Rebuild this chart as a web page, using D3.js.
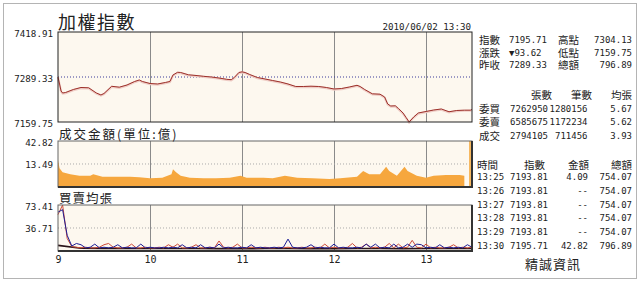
<!DOCTYPE html>
<html>
<head>
<meta charset="utf-8">
<script src="https://cdn.jsdelivr.net/npm/d3@7"></script>
<style>
  body { margin: 0; background: #fff; }
  svg text { font-family: "DejaVu Sans Mono", monospace; fill: #222; }
  svg text.cjk { font-family: "Noto Sans CJK TC", sans-serif; }
  svg text.lbl { font-family: "DejaVu Sans Mono", "Noto Sans CJK TC", monospace; }
</style>
</head>
<body>
<svg id="chart" width="640" height="282"></svg>
<script>
// ---- data ----
const idxTimes = ["09:00","09:02","09:03","09:05","09:10","09:15","09:20","09:25","09:28","09:30",
  "09:35","09:40","09:45","09:50","09:53","09:55","10:00","10:05","10:10","10:13",
  "10:15","10:18","10:20","10:25","10:30","10:35","10:40","10:45","10:50","10:53",
  "10:55","10:58","11:00","11:02","11:05","11:10","11:15","11:20","11:25","11:30",
  "11:35","11:40","11:45","11:50","11:55","12:00","12:05","12:10","12:15","12:17",
  "12:20","12:25","12:30","12:33","12:35","12:37","12:40","12:42","12:45","12:47",
  "12:49","12:52","12:55","13:00","13:05","13:10","13:15","13:20","13:25","13:29","13:30"];
const idxValues = [7289.33,7249.0,7243.2,7244.7,7253.3,7259.1,7258.2,7243.3,7237.5,7241.8,
  7262.6,7260.0,7266.3,7276.4,7280.7,7276.4,7270.6,7269.2,7273.5,7276.4,
  7295.1,7302.9,7302.3,7295.7,7293.7,7291.3,7289.3,7286.4,7282.7,7281.6,
  7287.9,7302.3,7304.13,7302.3,7296.5,7287.9,7283.6,7279.2,7274.9,7269.2,
  7262.0,7262.0,7262.8,7262.0,7259.1,7254.8,7256.2,7260.5,7265.4,7262.0,
  7253.3,7240.9,7239.8,7231.7,7211.6,7205.8,7206.4,7198.6,7185.7,7172.7,
  7159.75,7174.1,7185.7,7190.0,7194.3,7197.2,7189.2,7192.9,7193.81,7193.81,7195.71];
const prevClose = 7289.33;
const idxTicks = [7159.75, 7289.33, 7418.91];

const volTimes = ["09:00","09:01","09:03","09:08","09:14","09:21","09:23","09:29","09:38","09:47",
  "09:53","10:00","10:08","10:14","10:15","10:17","10:20","10:26","10:35","10:43",
  "10:52","10:59","11:03","11:14","11:20","11:28","11:36","11:46","11:57","12:04",
  "12:15","12:19","12:23","12:30","12:34","12:36","12:41","12:46","12:48","12:54",
  "13:00","13:05","13:13","13:22","13:25"];
const volValues = [17.6,9.5,6.4,5.0,4.1,4.1,5.0,3.5,3.5,3.5,
  3.2,2.7,3.0,5.0,8.7,6.4,4.1,3.0,2.7,2.7,
  3.0,4.1,3.0,3.0,2.7,4.1,3.0,2.7,2.3,2.7,
  3.5,7.4,5.0,5.0,11.0,7.4,4.1,11.0,7.4,4.1,
  3.0,4.1,4.6,4.6,4.09];
const volLastTime = "13:30";
const volLastValue = 42.82;
const volTicks = [13.49, 42.82];

// average lot size, one value every 3 minutes from 09:00
const avgStep = 3;
const buyAvg = [58,73.41,20,7,6,5,6,5,5,6, 10,12,6,5,5,6,11,5,5,6, 5,5,6,5,10,6,11,5,5,6,
  10,5,5,6,5,16,6,5,6,11, 5,5,6,5,5,6,5,5,6,5, 6,5,5,6,5,5,6,5,11,5,
  6,5,5,6,12,5,6,11,5,6, 5,6,12,5,11,5,6,17,6,5, 11,5,6,5,5,6,10,5,6,5, 6];
const sellAvg = [62,66,25,8,12,10,5,6,11,5, 6,5,6,10,5,6,5,5,11,5, 6,5,5,6,5,6,5,10,5,6,
  5,10,5,6,5,11,5,6,5,5, 6,5,10,5,6,5,5,6,5,6, 19,6,5,5,6,10,5,6,5,5,
  11,5,6,5,5,6,5,11,6,11, 5,6,5,11,5,6,11,6,11,10, 5,6,5,10,5,6,5,6,5,10, 6];
// traded average lot size, one value every 15 minutes
const tradeStep = 15;
const tradeAvg = [9, 4.4, 4.2, 4.0, 4.0, 3.9, 3.9, 3.8, 3.8, 3.9, 3.9, 3.8, 3.8, 3.9, 3.9, 3.8, 3.9, 3.9, 3.9];
const avgTicks = [36.71, 73.41];

const hourTicks = ["09:00","10:00","11:00","12:00","13:00"];

// right panel
const quoteLabelsA = ["指數","漲跌","昨收"];
const quoteValuesA = ["7195.71","▼93.62","7289.33"];
const quoteLabelsB = ["高點","低點","總額"];
const quoteValuesB = ["7304.13","7159.75","796.89"];
const orderHeads = ["張數","筆數","均張"];
const orderNames = ["委買","委賣","成交"];
const orderLots = [7262950, 6585675, 2794105];
const orderCounts = [1280156, 1172234, 711456];
const orderAvg = [5.67, 5.62, 3.93];
const tickHeads = ["時間","指數","金額","總額"];
const tickTimes = ["13:25","13:26","13:27","13:28","13:29","13:30"];
const tickIndex = [7193.81, 7193.81, 7193.81, 7193.81, 7193.81, 7195.71];
const tickAmount = [4.09, null, null, null, null, 42.82];
const tickTotal = [754.07, 754.07, 754.07, 754.07, 754.07, 796.89];

// ---- drawing ----
const svg = d3.select("#chart");
const parse = d3.timeParse("%H:%M");
const L = 58, R = 472;
const panels = {
  main: { top: 32, bot: 122 },
  vol:  { top: 141, bot: 187 },
  avg:  { top: 205, bot: 251 }
};
const bg = "#fdf8ef";

const x = d3.scaleTime().domain([parse("09:00"), parse("13:30")]).range([L, R]);
const yMain = d3.scaleLinear().domain([idxTicks[0], idxTicks[2]]).range([panels.main.bot, panels.main.top]);
const yVol = d3.scalePow().exponent(0.6).domain([0, volTicks[1]]).range([panels.vol.bot, panels.vol.top]);
const yAvg = d3.scaleLinear().domain([0, avgTicks[1]]).range([panels.avg.bot, panels.avg.top]);

// outer border
svg.append("rect").attr("x", 3.5).attr("y", 3.5).attr("width", 633).attr("height", 275)
  .attr("fill", "#fff").attr("stroke", "#b4b4b4");

// panel backgrounds + hour grid
Object.values(panels).forEach(p => {
  svg.append("rect").attr("x", L).attr("y", p.top).attr("width", R - L).attr("height", p.bot - p.top)
    .attr("fill", bg);
  svg.append("g").attr("transform", `translate(0,${p.bot})`)
    .call(d3.axisBottom(x).tickValues(hourTicks.slice(1).map(parse)).tickSize(-(p.bot - p.top)).tickFormat(""))
    .call(g => g.select(".domain").remove())
    .call(g => g.selectAll(".tick line").attr("stroke", "#8a8a8a"));
});

// dotted reference lines
svg.append("line").attr("x1", L).attr("x2", R).attr("y1", yMain(prevClose)).attr("y2", yMain(prevClose))
  .attr("stroke", "#3a3a9a").attr("stroke-dasharray", "1,2");
svg.append("line").attr("x1", L).attr("x2", R).attr("y1", yVol(volTicks[0])).attr("y2", yVol(volTicks[0]))
  .attr("stroke", "#aaa").attr("stroke-dasharray", "1,2");
svg.append("line").attr("x1", L).attr("x2", R).attr("y1", yAvg(avgTicks[0])).attr("y2", yAvg(avgTicks[0]))
  .attr("stroke", "#aaa").attr("stroke-dasharray", "1,2");

// index line
const idxData = idxTimes.map((t, i) => ({ t: parse(t), v: idxValues[i] }));
const idxLine = d3.line().x(d => x(d.t)).y(d => yMain(d.v));
svg.append("path").datum(idxData).attr("d", idxLine).attr("fill", "none")
  .attr("stroke", "#efcdc6").attr("stroke-width", 2.2).attr("transform", "translate(0,0.6)");
svg.append("path").datum(idxData).attr("d", idxLine).attr("fill", "none")
  .attr("stroke", "#9c302a").attr("stroke-width", 1);

// volume area
const volData = volTimes.map((t, i) => ({ t: parse(t), v: volValues[i] }));
svg.append("path").datum(volData)
  .attr("d", d3.area().x(d => x(d.t)).y0(panels.vol.bot).y1(d => yVol(d.v)))
  .attr("fill", "#f6a73e");
svg.append("rect").attr("x", x(parse(volLastTime)) - 3).attr("width", 2.5)
  .attr("y", yVol(volLastValue)).attr("height", panels.vol.bot - yVol(volLastValue))
  .attr("fill", "#f6b860");

// average lot lines
const t0 = parse("09:00");
const avgLine = d3.line().x((d, i) => x(d3.timeMinute.offset(t0, i * avgStep))).y(d => yAvg(d));
const tradeLine = d3.line().x((d, i) => x(d3.timeMinute.offset(t0, Math.min(270, i * tradeStep)))).y(d => yAvg(d));
svg.append("path").datum(tradeAvg).attr("d", tradeLine).attr("fill", "none")
  .attr("stroke", "#2a1418").attr("stroke-width", 1.6);
svg.append("path").datum(buyAvg).attr("d", avgLine).attr("fill", "none")
  .attr("stroke", "#cc4a38").attr("stroke-width", 1);
svg.append("path").datum(sellAvg).attr("d", avgLine).attr("fill", "none")
  .attr("stroke", "#1e1e96").attr("stroke-width", 1);

// frames
svg.append("rect").attr("x", L).attr("y", panels.main.top).attr("width", R - L)
  .attr("height", panels.main.bot - panels.main.top).attr("fill", "none").attr("stroke", "#222");
["vol", "avg"].forEach(k => {
  const p = panels[k];
  svg.append("rect").attr("x", L).attr("y", p.top).attr("width", R - L).attr("height", p.bot - p.top)
    .attr("fill", "none").attr("stroke", "#666");
  svg.append("path").attr("d", `M${L},${p.bot}H${R}V${p.top}`).attr("fill", "none")
    .attr("stroke", "#333").attr("stroke-width", 2);
});

// y labels
function yLabels(scale, ticks, fmt) {
  svg.append("g").selectAll("text").data(ticks).join("text")
    .attr("x", 53).attr("y", d => scale(d) + 1).attr("text-anchor", "end")
    .attr("dominant-baseline", "central").style("font-size", "9.2px").text(fmt);
}
yLabels(yMain, idxTicks, d3.format(".2f"));
yLabels(yVol, volTicks, d3.format(".2f"));
yLabels(yAvg, avgTicks, d3.format(".2f"));

// x labels
svg.append("g").attr("transform", `translate(0,${panels.avg.bot})`)
  .call(d3.axisBottom(x).tickValues(hourTicks.map(parse)).tickSize(0).tickFormat(d3.timeFormat("%-H")))
  .call(g => g.select(".domain").remove())
  .call(g => g.selectAll("text").attr("dy", "0.9em").style("font-size", "10px")
    .style("font-family", "DejaVu Sans Mono").attr("fill", "#222"));

// titles
svg.append("text").attr("class", "cjk").attr("x", 58).attr("y", 29).style("font-size", "18px")
  .attr("letter-spacing", "1.5px").text("加權指數");
svg.append("text").attr("x", 471).attr("y", 26).attr("text-anchor", "end").style("font-size", "9.2px")
  .attr("dominant-baseline", "central").text("2010/06/02 13:30");
svg.append("text").attr("class", "cjk").attr("x", 59).attr("y", 139).style("font-size", "12.5px")
  .attr("letter-spacing", "2px").text("成交金額(單位:億)");
svg.append("text").attr("class", "cjk").attr("x", 59).attr("y", 203).style("font-size", "12.5px")
  .attr("letter-spacing", "1px").text("買賣均張");

// right panel
const blue = "#2a2aa8", red = "#b8323a", darkRed = "#9a2a3a";
function cjk(txt, xx, yy, anchor, color) {
  svg.append("text").attr("class", "lbl").attr("x", xx).attr("y", yy).style("font-size", "10.5px")
    .attr("text-anchor", anchor).attr("dominant-baseline", "central").attr("fill", color || "#333").text(txt);
}
function num(txt, xx, yy, anchor, color) {
  svg.append("text").attr("x", xx).attr("y", yy).attr("text-anchor", anchor).style("font-size", "9px")
    .attr("dominant-baseline", "central").attr("fill", color || "#222").text(txt);
}
const qRows = [40, 52.5, 65];
qRows.forEach((yy, i) => {
  cjk(quoteLabelsA[i], 479, yy, "start");
  num(quoteValuesA[i], 509, yy, "start", i < 2 ? blue : "#222");
  cjk(quoteLabelsB[i], 558, yy, "start");
  num(quoteValuesB[i], 632, yy, "end", i === 0 ? red : i === 1 ? blue : "#222");
});
[552, 592, 632].forEach((xx, i) => cjk(orderHeads[i], xx, 95, "end", blue));
const oRows = [109, 122, 135.5];
const oColors = [red, blue, "#222"];
oRows.forEach((yy, i) => {
  cjk(orderNames[i], 479, yy, "start", oColors[i]);
  num(orderLots[i], 548, yy, "end", oColors[i]);
  num(orderCounts[i], 587.5, yy, "end", oColors[i]);
  num(orderAvg[i].toFixed(2), 632, yy, "end", oColors[i]);
});
cjk(tickHeads[0], 477, 165, "start", blue);
[545, 589, 632].forEach((xx, i) => cjk(tickHeads[i + 1], xx, 165, "end", blue));
tickTimes.forEach((t, i) => {
  const yy = 177 + i * 13.8;
  num(t, 477, yy, "start", darkRed);
  num(tickIndex[i].toFixed(2), 548, yy, "end");
  num(tickAmount[i] == null ? "--" : tickAmount[i].toFixed(2), 588, yy, "end");
  num(tickTotal[i].toFixed(2), 632, yy, "end");
});
svg.append("text").attr("class", "cjk").attr("x", 553).attr("y", 263).style("font-size", "13px")
  .attr("text-anchor", "middle").attr("dominant-baseline", "central").attr("letter-spacing", "1px")
  .attr("fill", "#333").text("精誠資訊");
</script>
</body>
</html>
